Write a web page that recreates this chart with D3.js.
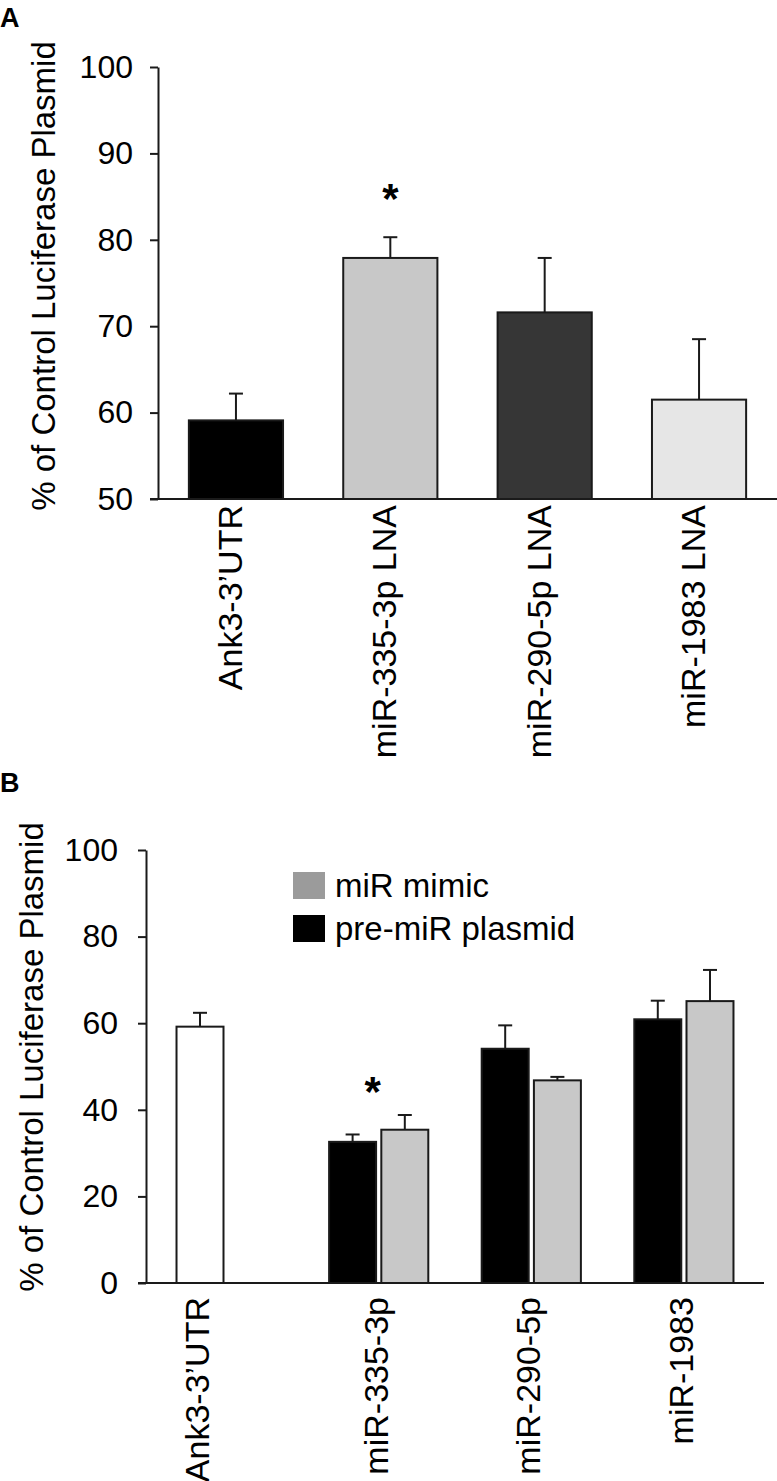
<!DOCTYPE html>
<html>
<head>
<meta charset="utf-8">
<script src="https://cdn.jsdelivr.net/npm/d3@7"></script>
<style>
  body { margin: 0; background: #fff; }
  svg { display: block; font-family: "Liberation Sans", Arial, sans-serif; }
</style>
</head>
<body>
<div id="chart"></div>
<script>
// Panel A: LNA knockdown
const catsA = ["Ank3-3\u2019UTR", "miR-335-3p LNA", "miR-290-5p LNA", "miR-1983 LNA"];
const valsA = [59.1, 77.9, 71.6, 61.5];
const errA = [3.1, 2.4, 6.3, 7.0];
const fillA = ["#000000", "#c8c8c8", "#363636", "#e6e6e6"];
const ticksA = [50, 60, 70, 80, 90, 100];
const starA = ["miR-335-3p LNA"];

// Panel B: mimic / pre-miR overexpression
const catsB = ["Ank3-3\u2019UTR", "miR-335-3p", "miR-290-5p", "miR-1983"];
const seriesB = ["pre-miR plasmid", "miR mimic"];
const preMiR = [59.2, 32.6, 54.1, 60.9];
const preMiRErr = [3.2, 1.7, 5.4, 4.3];
const mimic = [null, 35.4, 46.8, 65.1];
const mimicErr = [null, 3.4, 0.8, 7.2];
const ticksB = [0, 20, 40, 60, 80, 100];
const starB = ["miR-335-3p"];

const W = 777, H = 1481;
const svg = d3.select("#chart").append("svg").attr("width", W).attr("height", H);

const ink = "#1a1a1a";

function errorBar(g, x, y0, y1) {
  g.append("line").attr("x1", x).attr("x2", x).attr("y1", y0).attr("y2", y1)
    .attr("stroke", ink).attr("stroke-width", 2);
  g.append("line").attr("x1", x - 7).attr("x2", x + 7).attr("y1", y1).attr("y2", y1)
    .attr("stroke", ink).attr("stroke-width", 2);
}

function yAxis(g, y, ticks, axisX, labelGap) {
  const ax = g.append("g").attr("transform", `translate(${axisX},0)`)
    .call(d3.axisLeft(y).tickValues(ticks).tickSize(8).tickSizeOuter(0).tickPadding(labelGap));
  ax.select(".domain").attr("stroke", ink).attr("stroke-width", 2);
  ax.selectAll(".tick line").attr("stroke", ink).attr("stroke-width", 2);
  ax.selectAll(".tick text").attr("font-size", 32).attr("fill", "#000")
    .attr("font-family", "Liberation Sans, Arial, sans-serif");
}

// ---------- Panel A ----------
{
  const g = svg.append("g");
  const y = d3.scaleLinear().domain([50, 100]).range([499, 67]);
  const x = d3.scaleBand().domain(catsA).range([158, 777]).paddingOuter(0.2).paddingInner(0.39);

  g.append("text").attr("x", 0).attr("y", 27).attr("font-size", 27).attr("font-weight", "bold").text("A");

  yAxis(g, y, ticksA, 158, 17);

  g.append("line").attr("x1", 150).attr("x2", 777).attr("y1", y(50)).attr("y2", y(50))
    .attr("stroke", ink).attr("stroke-width", 2);

  catsA.forEach((c, i) => {
    g.append("rect").attr("x", x(c)).attr("y", y(valsA[i]))
      .attr("width", x.bandwidth()).attr("height", y(50) - y(valsA[i]))
      .attr("fill", fillA[i]).attr("stroke", ink).attr("stroke-width", 2);
    errorBar(g, x(c) + x.bandwidth() / 2, y(valsA[i]), y(valsA[i] + errA[i]));
    if (starA.includes(c)) {
      g.append("text").attr("x", x(c) + x.bandwidth() / 2).attr("y", y(valsA[i] + errA[i]) - 24)
        .attr("text-anchor", "middle").attr("font-size", 42).attr("font-weight", "bold").text("*");
    }
    const lx = x(c) + x.bandwidth() / 2 + 6;
    g.append("text").attr("transform", `translate(${lx},505) rotate(-90)`)
      .attr("text-anchor", "end").attr("font-size", 34).text(c);
  });

  g.append("text").attr("transform", "translate(55,276) rotate(-90)")
    .attr("text-anchor", "middle").attr("font-size", 33).text("% of Control Luciferase Plasmid");
}

// ---------- Panel B ----------
{
  const g = svg.append("g");
  const y = d3.scaleLinear().domain([0, 100]).range([1283, 850]);
  const x = d3.scaleBand().domain(catsB).range([146, 764]).paddingOuter(0.2).paddingInner(0.35);
  const xs = d3.scaleBand().domain(seriesB).range([0, x.bandwidth()]).paddingInner(0.1);

  g.append("text").attr("x", 0).attr("y", 792).attr("font-size", 27).attr("font-weight", "bold").text("B");

  yAxis(g, y, ticksB, 146, 20);

  g.append("line").attr("x1", 138).attr("x2", 764).attr("y1", y(0)).attr("y2", y(0))
    .attr("stroke", ink).attr("stroke-width", 2);

  const vals = { "pre-miR plasmid": preMiR, "miR mimic": mimic };
  const errs = { "pre-miR plasmid": preMiRErr, "miR mimic": mimicErr };
  const fills = { "pre-miR plasmid": "#000000", "miR mimic": "#c8c8c8" };

  catsB.forEach((c, i) => {
    seriesB.forEach(s => {
      const v = vals[s][i];
      if (v == null) return;
      const bx = x(c) + xs(s);
      const fill = i === 0 ? "#ffffff" : fills[s];
      g.append("rect").attr("x", bx).attr("y", y(v))
        .attr("width", xs.bandwidth()).attr("height", y(0) - y(v))
        .attr("fill", fill).attr("stroke", ink).attr("stroke-width", 2);
      errorBar(g, bx + xs.bandwidth() / 2, y(v), y(v + errs[s][i]));
    });
    if (starB.includes(c)) {
      g.append("text").attr("x", x(c) + x.bandwidth() / 2 - 6).attr("y", 1106)
        .attr("text-anchor", "middle").attr("font-size", 42).attr("font-weight", "bold").text("*");
    }
    const cx = i === 0 ? x(c) + xs(seriesB[0]) + xs.bandwidth() / 2 : x(c) + x.bandwidth() / 2;
    g.append("text").attr("transform", `translate(${cx + 9},1297) rotate(-90)`)
      .attr("text-anchor", "end").attr("font-size", 34).text(c);
  });

  // legend: mimic first, then pre-miR
  const legendItems = ["miR mimic", "pre-miR plasmid"];
  const legendFill = { "miR mimic": "#9b9b9b", "pre-miR plasmid": "#000000" };
  legendItems.forEach((s, k) => {
    const ly = 872 + k * 43;
    g.append("rect").attr("x", 293).attr("y", ly).attr("width", 32).attr("height", 27).attr("fill", legendFill[s]);
    g.append("text").attr("x", 335).attr("y", ly + 13.5).attr("dy", "0.35em")
      .attr("font-size", 33).text(s);
  });

  g.append("text").attr("transform", "translate(43,1057) rotate(-90)")
    .attr("text-anchor", "middle").attr("font-size", 33).text("% of Control Luciferase Plasmid");
}
</script>
</body>
</html>
